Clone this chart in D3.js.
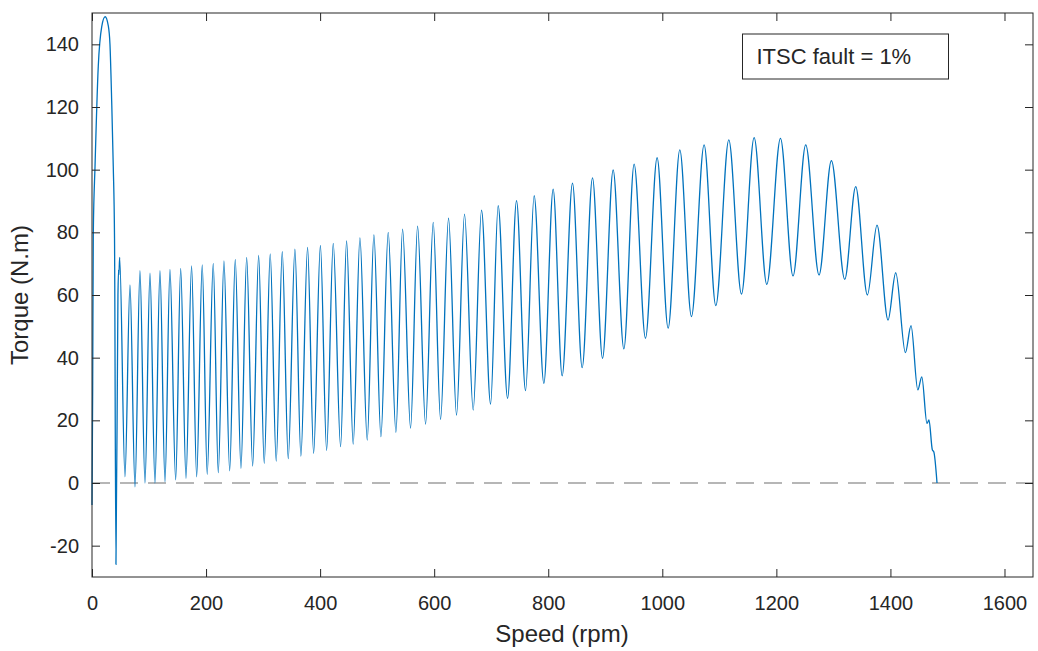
<!DOCTYPE html>
<html>
<head>
<meta charset="utf-8">
<script src="https://d3js.org/d3.v7.min.js"></script>
<style>
    body { margin: 0; background: #fff; }
    text { font-family: 'Liberation Sans', Arial, sans-serif; fill: #262626; }
</style>
</head>
<body>
<section id="visualization-1"><svg></svg></section>
<script>
// vertices (peaks and troughs)
var speedRpm = [
    0, 1.2, 2.3, 5.3, 11, 17, 23, 28.5, 31.5, 34.5, 37.3, 39.5, 42,
    45.5, 46.6, 47.2, 48.5, 57.8, 66.6, 75.4, 84.1, 92.9, 101.7, 110.4, 119.2,
    128, 136.7, 146.7, 155.5, 164.8, 174.6, 183.5, 193.3, 202, 212.6,
    221.4, 231.4, 241.4, 251.2, 261.2, 271.2, 281.7, 292.2, 302, 312.5,
    323, 333.6, 344.1, 355.8, 366.3, 378, 388.6, 400.5, 411.4, 423,
    435.9, 446.4, 458, 469.8, 482.6, 494.3, 506.6, 519.4, 532.9, 544.6,
    558.6, 570.9, 584.9, 598.3, 611.2, 625.2, 639.2, 653.2, 668.4, 683,
    698.9, 712.2, 728.7, 744.4, 760.2, 775.3, 792.3, 808.6, 824.4, 842.5,
    859.5, 877.6, 895.2, 913.8, 932.6, 950.6, 970.5, 990.9, 1010.2, 1030.7,
    1051.1, 1073.3, 1093.8, 1116.6, 1138.8, 1161, 1183.2, 1207.2, 1229.2, 1251.5,
    1274.8, 1296.5, 1319.9, 1339.1, 1359.6, 1376.5, 1395.8, 1409.3, 1426.3, 1436.1,
    1448, 1455, 1464.1, 1467.6, 1473.6, 1476, 1481.7
];
var torqueNm = [
    -7, 30, 80, 101, 133, 145.6, 148.8, 146, 140, 122, 101, 78, -26,
    60, 68, 66.5, 72, 2, 63.2, -1.2, 67.8, 0, 67, 0, 67.8,
    0.4, 68.2, 1, 68.5, 1.5, 69.3, 2, 69.6, 2.8, 70.1,
    3.3, 70.9, 3.9, 71.4, 4.7, 72, 5.4, 72.6, 6.3, 73.1,
    7, 73.8, 7.8, 74.6, 8.6, 75.2, 9.5, 75.8, 10.4, 76.5,
    11.6, 77.3, 12.4, 78.2, 13.7, 79.2, 14.8, 80, 16.2, 81,
    17.5, 82, 18.8, 83.2, 20.3, 84.5, 21.7, 85.8, 23.3, 87.1,
    25.2, 88.5, 27, 90.1, 29.5, 91.7, 31.8, 93.8, 34.2, 95.7,
    36.8, 97.4, 39.8, 99.9, 42.8, 101.8, 46.2, 103.8, 49.4, 106.3,
    53.1, 107.9, 56.6, 109.5, 60.3, 110.2, 63.4, 110, 66.1, 107.9,
    66.4, 102.9, 65, 94.6, 60, 82.3, 52, 67.1, 41.6, 50.2,
    29.7, 33.9, 19, 20.1, 10.5, 10, 0
];

var xTicks = [0, 200, 400, 600, 800, 1000, 1200, 1400, 1600];
var yTicks = [-20, 0, 20, 40, 60, 80, 100, 120, 140];
var xDomain = [0, 1650];
var yDomain = [-30, 150];
var legendLabel = 'ITSC fault = 1%';

var canvas = setUpSvgCanvas();
drawChart(canvas);

function setUpSvgCanvas() {
    var margin = {top: 13, right: 5, bottom: 74, left: 92},
        width = 1038 - margin.left - margin.right,
        height = 651 - margin.top - margin.bottom;

    var root = d3.select('section#visualization-1').select('svg')
        .attr('width', 1038)
        .attr('height', 651);

    var svg = root.append('g')
        .attr('transform', 'translate(' + margin.left + ',' + margin.top + ')');

    return {root: root, svg: svg, margin: margin, width: width, height: height};
}

function drawChart(canvas) {
    var svg = canvas.svg,
        width = canvas.width,
        height = canvas.height;

    var x = d3.scaleLinear().domain(xDomain).range([0, width]);
    var y = d3.scaleLinear().domain(yDomain).range([height, 0]);

    var points = speedRpm.map(function(s, i) { return [s, torqueNm[i]]; });

    // zero reference line
    svg.append('line')
        .attr('x1', 0)
        .attr('x2', width)
        .attr('y1', y(0))
        .attr('y2', y(0))
        .attr('stroke', '#6e6e6e')
        .attr('stroke-width', 1.2)
        .attr('stroke-dasharray', '18,10');

    var line = d3.line()
        .x(function(d) { return x(d[0]); })
        .y(function(d) { return y(d[1]); })
        .curve(d3.curveMonotoneX);

    svg.append('path')
        .datum(points)
        .attr('fill', 'none')
        .attr('stroke', '#0072BD')
        .attr('stroke-width', 1.3)
        .attr('d', line);

    // axes, ticks inward on all four sides
    var tickLen = 8;
    var axisColor = '#262626';
    var plain = function(d) { return String(d); };

    svg.append('g')
        .attr('class', 'axisX')
        .attr('transform', 'translate(0,' + height + ')')
        .call(d3.axisBottom(x).tickValues(xTicks).tickFormat(plain)
            .tickSizeInner(-tickLen).tickSizeOuter(0).tickPadding(19));
    svg.append('g')
        .attr('class', 'axisY')
        .call(d3.axisLeft(y).tickValues(yTicks).tickFormat(plain)
            .tickSizeInner(-tickLen).tickSizeOuter(0).tickPadding(13));
    svg.append('g')
        .attr('class', 'axisTop')
        .call(d3.axisTop(x).tickValues(xTicks).tickSizeInner(-tickLen).tickSizeOuter(0).tickFormat(''));
    svg.append('g')
        .attr('class', 'axisRight')
        .attr('transform', 'translate(' + width + ',0)')
        .call(d3.axisRight(y).tickValues(yTicks).tickSizeInner(-tickLen).tickSizeOuter(0).tickFormat(''));

    svg.selectAll('.domain').remove();
    svg.selectAll('.tick line').attr('stroke', axisColor);
    svg.selectAll('.tick text')
        .style('font-size', '20px')
        .attr('fill', axisColor);

    svg.append('rect')
        .attr('width', width)
        .attr('height', height)
        .attr('fill', 'none')
        .attr('stroke', axisColor)
        .attr('stroke-width', 1);

    // axis titles
    svg.append('text')
        .attr('x', 470)
        .attr('y', height + 65)
        .style('font-size', '24px')
        .style('text-anchor', 'middle')
        .text('Speed (rpm)');

    svg.append('text')
        .attr('transform', 'translate(-64,282) rotate(-90)')
        .style('font-size', '24px')
        .style('text-anchor', 'middle')
        .text('Torque (N.m)');

    // legend box
    var legend = svg.append('g')
        .attr('transform', 'translate(650.5,21)');
    legend.append('rect')
        .attr('width', 206)
        .attr('height', 45)
        .attr('fill', '#fff')
        .attr('stroke', axisColor)
        .attr('stroke-width', 1);
    legend.append('text')
        .attr('x', 14)
        .attr('y', 30)
        .style('font-size', '22px')
        .text(legendLabel);
}
</script>
</body>
</html>
